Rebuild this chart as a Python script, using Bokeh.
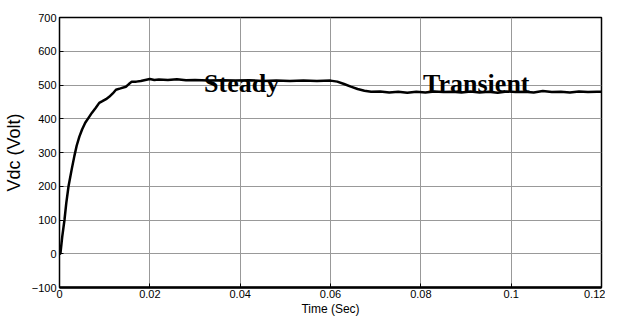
from bokeh.plotting import figure
from bokeh.models import FixedTicker, Range1d, Label
from bokeh.embed import file_html
from bokeh.resources import INLINE

time_s = [0, 0.0002, 0.0006, 0.0011, 0.0015, 0.002, 0.0027, 0.0033, 0.0038, 0.0044,
          0.005, 0.0057, 0.0065, 0.0072, 0.008, 0.0088, 0.0095, 0.0103, 0.011, 0.0118,
          0.0125, 0.0135, 0.0147, 0.0153, 0.016, 0.017, 0.018, 0.019, 0.020, 0.021,
          0.022, 0.024, 0.026, 0.028, 0.030, 0.033, 0.036, 0.039, 0.042, 0.045,
          0.048, 0.051, 0.054, 0.057, 0.060, 0.0615, 0.063, 0.0645, 0.066, 0.0675,
          0.069, 0.071, 0.073, 0.075, 0.077, 0.079, 0.081, 0.083, 0.085, 0.087,
          0.089, 0.091, 0.093, 0.095, 0.097, 0.099, 0.101, 0.103, 0.105, 0.107,
          0.109, 0.111, 0.113, 0.115, 0.117, 0.119, 0.120]
vdc = [0, 0, 50, 100, 150, 200, 250, 290, 320, 347,
       368, 388, 404, 418, 432, 447, 452, 458, 465, 475,
       486, 490, 495, 502, 510, 510, 512, 515, 518, 515,
       516, 515, 517, 514, 515, 513, 514, 513, 514, 512,
       513, 512, 513, 512, 513, 510, 503, 495, 488, 483,
       480, 481, 478, 480, 477, 480, 478, 481, 479, 480,
       478, 481, 478, 480, 477, 481, 479, 480, 478, 482,
       479, 480, 478, 481, 479, 480, 480]

x_ticks = [0, 0.02, 0.04, 0.06, 0.08, 0.1, 0.12]
x_tick_labels = {0: "0", 0.02: "0.02", 0.04: "0.04", 0.06: "0.06", 0.08: "0.08", 0.1: "0.1", 0.12: "0.12"}
y_ticks = [-100, 0, 100, 200, 300, 400, 500, 600, 700]

annotations = [("Steady", 0.032, 504), ("Transient", 0.0805, 504)]

p = figure(frame_width=542, frame_height=270, output_backend="svg", toolbar_location=None,
           x_range=Range1d(0, 0.12), y_range=Range1d(-100, 700),
           min_border_left=52, min_border_top=17, min_border_right=4, min_border_bottom=28)
p.background_fill_color = "white"
p.border_fill_color = "white"
p.outline_line_color = "black"
p.outline_line_width = 1.5

xax = p.below[0]
yax = p.left[0]
xax.ticker = FixedTicker(ticks=x_ticks)
yax.ticker = FixedTicker(ticks=y_ticks)
for ax in (xax, yax):
    ax.major_tick_in = 4
    ax.major_tick_out = 0
    ax.minor_tick_line_color = None
    ax.major_label_text_font = "Liberation Sans"
    ax.major_label_text_font_size = "11px"
    ax.major_label_text_color = "black"
    ax.axis_line_color = "black"
    ax.axis_label_text_font_style = "normal"
    ax.axis_label_text_color = "black"
    ax.major_label_standoff = 3

xax.major_label_overrides = x_tick_labels
xax.major_label_standoff = 2
xax.axis_line_width = 2.5
xax.axis_label = "Time (Sec)"
xax.axis_label_text_font = "Liberation Sans"
xax.axis_label_text_font_size = "12px"
xax.axis_label_standoff = 1
yax.axis_label = "Vdc (Volt)"
yax.axis_label_text_font = "Liberation Sans"
yax.axis_label_text_font_size = "18px"
yax.axis_label_standoff = 5

p.xgrid.ticker = FixedTicker(ticks=x_ticks)
p.ygrid.ticker = FixedTicker(ticks=y_ticks)
p.grid.grid_line_color = "#999999"
p.grid.grid_line_width = 1

p.line(time_s, vdc, line_color="black", line_width=2.5)

for txt, tx, ty in annotations:
    p.add_layout(Label(x=tx, y=ty, text=txt, text_font="Liberation Serif",
                       text_font_style="bold", text_font_size="26px",
                       text_color="black", text_baseline="alphabetic", text_align="left"))

open("out.html", "w").write(file_html(p, INLINE))
